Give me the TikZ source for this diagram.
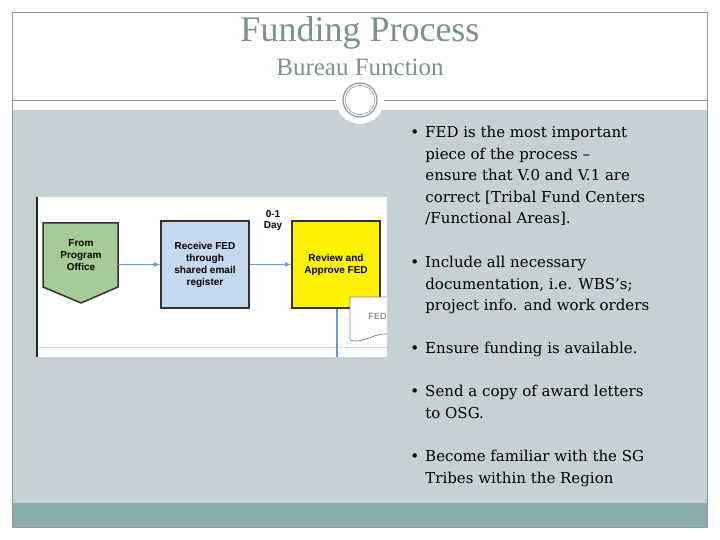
\documentclass[tikz,border=0pt]{standalone}
\usepackage{fontspec}
\setmainfont{Liberation Serif}
\newfontfamily\flowfont{Liberation Sans}
\newfontfamily\bodyfont{DejaVu Serif}
\definecolor{slidegray}{RGB}{198,209,214}
\definecolor{barteal}{RGB}{139,172,172}
\definecolor{titlegray}{RGB}{122,145,145}
\definecolor{framegray}{RGB}{140,155,155}
\definecolor{boxgreen}{RGB}{166,203,148}
\definecolor{boxblue}{RGB}{197,217,238}
\definecolor{arrowblue}{RGB}{100,150,220}
\tikzset{every picture/.style={line width=0.75pt}}
\tikzset{
  bullet/.style={anchor=north west,inner sep=0pt,align=left,font=\bodyfont\fontsize{15}{21.5}\selectfont},
  flowbox/.style={draw=black!80,line width=1.5pt,minimum width=88pt,minimum height=87pt,inner sep=2pt,align=center,font=\flowfont\bfseries\fontsize{10}{12}\selectfont},
  flow/.style={draw=arrowblue,line width=1.2pt,-latex}
}
\begin{document}
\begin{tikzpicture}[x=1pt,y=1pt,yscale=-1,xscale=1]
        \useasboundingbox (0,0) rectangle (720,540);
        \fill[white] (0,0) rectangle (720,540);
        %Body
        \fill[slidegray] (12,110) rectangle (707,503);
        \fill[barteal] (12,503) rectangle (707,527);
        \draw[framegray,line width=0.6pt] (12,12) rectangle (707,527);
        \draw[framegray,line width=0.6pt] (12,100) -- (707,100);
        %Circle
        \fill[white] (360,100) circle [radius=24];
        \draw[framegray,line width=1.2pt] (360,100) circle [radius=17];
        \draw[framegray,line width=0.6pt] (360,100) circle [radius=14.5];

        % Title
        \node (title) at (360,33) [text=titlegray,font=\fontsize{36}{40}\selectfont] {Funding Process};
        \node (subtitle) at (360,67) [text=titlegray,font=\fontsize{25}{28}\selectfont] {Bureau Function};

        %Flow chart
        \fill[white] (37,197) rectangle (387,357);
        \draw[black!85,line width=2pt] (37,197) -- (37,357);
        \draw[black!15,line width=1pt] (38,347) -- (387,347);
        \begin{scope}
        \clip (37,197) rectangle (387,357);
        \draw[draw=black!80,line width=1.5pt,fill=boxgreen] (43,223) -- (118,223) -- (118,287) -- (81,303) -- (43,287) -- cycle;
        \node (office) at (81,255) [align=center,font=\flowfont\bfseries\fontsize{10}{12}\selectfont] {From\\Program\\Office};
        \node (receive) [flowbox,fill=boxblue] at (205,264.5) {Receive FED\\through\\shared email\\register};
        \node (review) [flowbox,fill=yellow] at (336,264.5) {Review and\\Approve FED};
        \node (day) at (273,221) [align=center,font=\flowfont\bfseries\fontsize{10}{11}\selectfont] {0-1\\Day};
        \draw[draw=black!50,fill=white] (350,297) -- (392,297) -- (392,335) .. controls (375,330) and (365,345) .. (350,340) -- cycle;
        \node (fed) at (365,316) [anchor=west,text=black!60,font=\flowfont\fontsize{9}{10}\selectfont] {FED};
        \coordinate (down) at (337,357);
        \draw[arrowblue,line width=1.2pt] (review.south -| down) -- (down);
        \draw[flow] (118,264.5) -- (receive.west);
        \draw[flow] (receive) -- (review);
        \end{scope}

        % Bullets
        \node (b1) at (410,126) [bullet] {•\hspace{6pt}FED is the most important\\\hspace{15pt}piece of the process –\\\hspace{15pt}ensure that V.0 and V.1 are\\\hspace{15pt}correct [Tribal Fund Centers\\\hspace{15pt}/Functional Areas].};
        \node (b2) at (410,256) [bullet] {•\hspace{6pt}Include all necessary\\\hspace{15pt}documentation, i.e. WBS’s;\\\hspace{15pt}project info. and work orders};
        \node (b3) at (410,342) [bullet] {•\hspace{6pt}Ensure funding is available.};
        \node (b4) at (410,385) [bullet] {•\hspace{6pt}Send a copy of award letters\\\hspace{15pt}to OSG.};
        \node (b5) at (410,450) [bullet] {•\hspace{6pt}Become familiar with the SG\\\hspace{15pt}Tribes within the Region};
\end{tikzpicture}
\end{document}
